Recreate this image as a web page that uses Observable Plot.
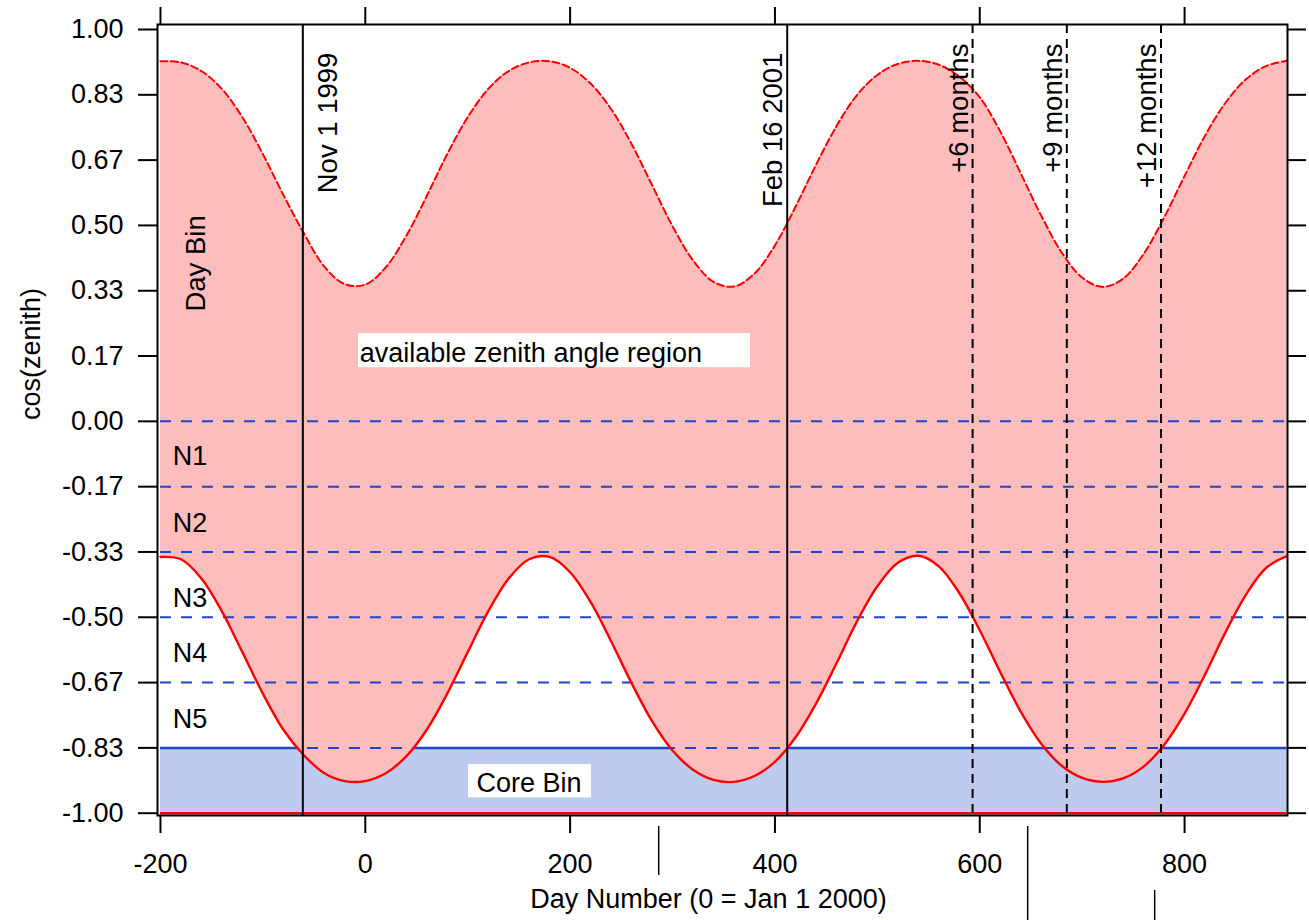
<!DOCTYPE html>
<html>
<head>
<meta charset="utf-8">
<script src="https://cdn.jsdelivr.net/npm/d3@7"></script>
<script src="https://cdn.jsdelivr.net/npm/@observablehq/plot@0.6"></script>
<style>
html, body { margin: 0; padding: 0; background: #ffffff; overflow: hidden; }
svg { display: block; }
</style>
</head>
<body>
<div id="chart"></div>
<script>
// ---- data ----
const days = [-200, -180, -160, -140, -120, -100, -80, -60, -40, -20, 0, 20, 40, 60, 80, 100, 120, 140, 160, 180,
  200, 220, 240, 260, 280, 300, 320, 340, 360, 380, 400, 420, 440, 460, 480, 500, 520, 540, 560, 580,
  600, 620, 640, 660, 680, 700, 720, 740, 760, 780, 800, 820, 840, 860, 880, 900];
const upperCos = [0.919, 0.916, 0.894, 0.848, 0.776, 0.682, 0.578, 0.480, 0.395, 0.350, 0.349, 0.393, 0.473, 0.575, 0.682, 0.776, 0.848, 0.894, 0.916, 0.919,
  0.902, 0.862, 0.797, 0.708, 0.603, 0.498, 0.411, 0.356, 0.344, 0.377, 0.449, 0.547, 0.654, 0.753, 0.832, 0.884, 0.912, 0.920, 0.910, 0.880,
  0.827, 0.740, 0.633, 0.525, 0.431, 0.367, 0.343, 0.364, 0.427, 0.520, 0.626, 0.729, 0.813, 0.873, 0.907, 0.920];
const lowerCos = [-0.346, -0.352, -0.401, -0.485, -0.589, -0.695, -0.787, -0.852, -0.898, -0.918, -0.918, -0.898, -0.855, -0.787, -0.695, -0.589, -0.485, -0.401, -0.352, -0.346,
  -0.385, -0.461, -0.561, -0.668, -0.765, -0.840, -0.889, -0.915, -0.920, -0.905, -0.869, -0.807, -0.721, -0.618, -0.511, -0.421, -0.361, -0.343, -0.370, -0.438,
  -0.533, -0.640, -0.741, -0.823, -0.879, -0.910, -0.920, -0.911, -0.881, -0.826, -0.746, -0.646, -0.538, -0.442, -0.373, -0.344];

const xTicks = [-200, 0, 200, 400, 600, 800];
const yTicks = [-1, -0.8333, -0.6667, -0.5, -0.3333, -0.1667, 0, 0.1667, 0.3333, 0.5, 0.6667, 0.8333, 1];
const yTickLabels = ["-1.00", "-0.83", "-0.67", "-0.50", "-0.33", "-0.17", "0.00", "0.17", "0.33", "0.50", "0.67", "0.83", "1.00"];

const binEdges = [0, -0.1667, -0.3333, -0.5, -0.6667, -0.8333];
const coreBin = [-1, -0.8333];
const binLabels = ["N1", "N2", "N3", "N4", "N5"];
const binLabelCos = [-0.09, -0.26, -0.452, -0.591, -0.761];
const binLabelDay = -188;

const solidEventDays = [-61, 412];
const dashedEventDays = [593, 685, 777];
const eventLabels = ["Nov 1 1999", "Feb 16 2001", "+6 months", "+9 months", "+12 months"];
const eventDays = [-61, 412, 593, 685, 777];
const eventLabelTopCos = [0.941, 0.941, 0.964, 0.964, 0.964];

const dayBinLabel = "Day Bin";
const dayBinDay = -175.5;
const dayBinCos = 0.403;

const boxLabels = ["available zenith angle region", "Core Bin"];
const boxDay1 = [-6.6, 100.8];
const boxDay2 = [376.1, 220.9];
const boxCos1 = [0.224, -0.876];
const boxCos2 = [0.137, -0.961];
const boxTextDay = [-5.4, 108.6];
const boxTextCos = [0.174, -0.923];

const strayDays = [286.5, 646.8, 770.8];
const strayTop = [-1.034, -1.034, -1.197];
const strayBottom = [-1.159, -1.28, -1.28];

const xTitle = "Day Number (0 = Jan 1 2000)";
const yTitle = "cos(zenith)";

// ---- tables for the library ----
const curve = days.map((d, i) => ({day: d, upper: upperCos[i], lower: lowerCos[i]}));
const dayMin = days[0], dayMax = days[days.length - 1];
const events = eventLabels.map((t, i) => ({t, day: eventDays[i], top: eventLabelTopCos[i]}));
const boxes = boxLabels.map((t, i) => ({t, x1: boxDay1[i], x2: boxDay2[i], y1: boxCos1[i], y2: boxCos2[i], tx: boxTextDay[i], ty: boxTextCos[i]}));
const bins = binLabels.map((t, i) => ({t, day: binLabelDay, c: binLabelCos[i]}));
const strays = strayDays.map((d, i) => ({d, y1: strayTop[i], y2: strayBottom[i]}));

const font = "'Liberation Sans', Arial, Helvetica, sans-serif";
const pink = "#fdbdbd";
const coreBlue = "#bdcbef";
const lineBlue = "#1f44cc";
const red = "#ff0000";
const fs = 27;

const chart = Plot.plot({
  width: 1309,
  height: 920,
  marginTop: 24,
  marginBottom: 105,
  marginLeft: 157,
  marginRight: 22,
  style: {fontFamily: font, fontSize: fs + "px", color: "black", background: "white"},
  x: {domain: [-202.9, 900.5], axis: null},
  y: {domain: [-1.00587, 1.01276], axis: null},
  marks: [
    Plot.rect([coreBin], {x1: () => dayMin, x2: () => dayMax, y1: d => d[0], y2: d => d[1], fill: coreBlue}),
    Plot.ruleY([coreBin[1]], {x1: () => dayMin, x2: () => dayMax, stroke: lineBlue, strokeWidth: 2.5}),
    Plot.areaY(curve, {x: "day", y1: "lower", y2: "upper", fill: pink, curve: "catmull-rom"}),
    Plot.ruleY(binEdges, {x1: () => dayMin, x2: () => dayMax, stroke: lineBlue, strokeWidth: 2, strokeDasharray: "11,10"}),
    Plot.line(curve, {x: "day", y: "upper", stroke: red, strokeWidth: 2, strokeDasharray: "7,3.5", curve: "catmull-rom"}),
    Plot.line(curve, {x: "day", y: "lower", stroke: red, strokeWidth: 2.4, curve: "catmull-rom"}),
    Plot.ruleY([coreBin[0]], {x1: () => dayMin, x2: () => dayMax, stroke: red, strokeWidth: 2.5}),
    Plot.ruleX(solidEventDays, {stroke: "black", strokeWidth: 2}),
    Plot.ruleX(dashedEventDays, {stroke: "black", strokeWidth: 2, strokeDasharray: "9,6"}),
    // event labels
    Plot.text(events.slice(0, 1), {x: "day", y: "top", text: "t", rotate: -90, textAnchor: "end", lineAnchor: "top", dx: 15, fontSize: 27.5, fill: "black"}),
    Plot.text(events.slice(1), {x: "day", y: "top", text: "t", rotate: -90, textAnchor: "end", lineAnchor: "bottom", dx: -5, fontSize: 27.5, fill: "black"}),
    Plot.text([dayBinLabel], {x: () => dayBinDay, y: () => dayBinCos, text: d => d, rotate: -90, textAnchor: "middle", lineAnchor: "top", fontSize: 27.5, fill: "black"}),
    // boxed labels
    Plot.rect(boxes, {x1: "x1", x2: "x2", y1: "y1", y2: "y2", fill: "white"}),
    Plot.text(boxes, {x: "tx", y: "ty", text: "t", textAnchor: "start", lineAnchor: "middle", fontSize: fs, fill: "black"}),
    Plot.text(bins, {x: "day", y: "c", text: "t", textAnchor: "start", lineAnchor: "middle", fontSize: fs, fill: "black"}),
    // axes
    Plot.axisY(yTicks, {anchor: "left", tickSize: 19, tickPadding: 15, strokeWidth: 2, fontSize: fs, label: null,
      tickFormat: d => yTickLabels[yTicks.indexOf(d)]}),
    Plot.axisY(yTicks, {anchor: "right", tickSize: 18, strokeWidth: 2, label: null, tickFormat: () => ""}),
    Plot.axisX(xTicks, {anchor: "bottom", tickSize: 18, tickPadding: 20, strokeWidth: 2, fontSize: fs, label: null,
      tickFormat: d => String(d)}),
    Plot.axisX(xTicks, {anchor: "top", tickSize: 18, strokeWidth: 2, label: null, tickFormat: () => ""}),
    Plot.ruleX(strays, {x: "d", y1: "y1", y2: "y2", stroke: "black", strokeWidth: 1.5}),
    Plot.frame({stroke: "black", strokeWidth: 2}),
    Plot.text([yTitle], {frameAnchor: "left", text: d => d, rotate: -90, lineAnchor: "top", dx: -137, fontSize: fs, fill: "black"}),
    Plot.text([xTitle], {frameAnchor: "bottom", text: d => d, lineAnchor: "top", dy: 73, dx: -14, fontSize: fs, fill: "black"})
  ]
});
document.getElementById("chart").appendChild(chart);
</script>
</body>
</html>
